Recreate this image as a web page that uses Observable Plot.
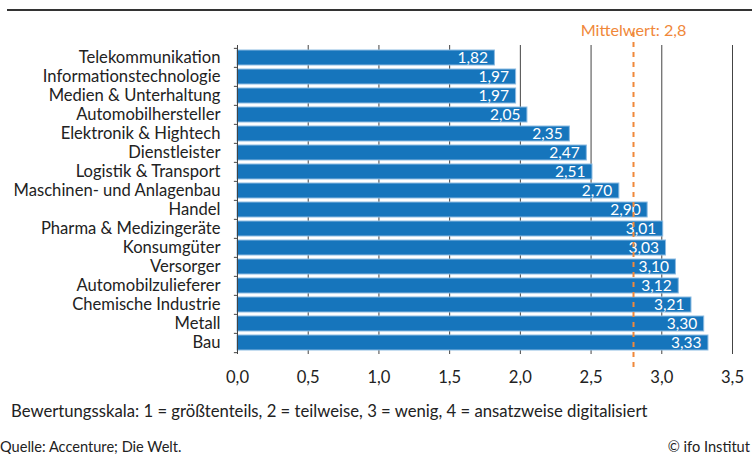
<!DOCTYPE html>
<html><head><meta charset="utf-8">
<script src="https://cdn.jsdelivr.net/npm/d3@7"></script>
<script src="https://cdn.jsdelivr.net/npm/@observablehq/plot@0.6"></script>
<style>
body{margin:0;background:#fff;}
#wrap{position:relative;width:752px;height:454px;font-family:Lato,"Noto Sans",sans-serif;color:#222;overflow:hidden;}
#topline{position:absolute;left:7px;right:0;top:9px;height:2px;background:#333;}
.t{position:absolute;white-space:nowrap;line-height:1;}
</style></head>
<body><div id="wrap"><div id="topline"></div></div>
<script>
const categories = ["Telekommunikation","Informationstechnologie","Medien & Unterhaltung","Automobilhersteller","Elektronik & Hightech","Dienstleister","Logistik & Transport","Maschinen- und Anlagenbau","Handel","Pharma & Medizingeräte","Konsumgüter","Versorger","Automobilzulieferer","Chemische Industrie","Metall","Bau"];
const values = [1.82,1.97,1.97,2.05,2.35,2.47,2.51,2.70,2.90,3.01,3.03,3.10,3.12,3.21,3.30,3.33];
const xTicks = [0,0.5,1,1.5,2,2.5,3,3.5];
const meanValue = 2.8;
const meanLabel = "Mittelwert: 2,8";
const scaleNote = "Bewertungsskala: 1 = größtenteils, 2 = teilweise, 3 = wenig, 4 = ansatzweise digitalisiert";
const source = "Quelle: Accenture; Die Welt.";
const credit = "© ifo Institut";

const data = categories.map((c,i)=>({cat:c, v:values[i]}));
const fmt = d => d.toFixed(1).replace(".", ",");
const fmt2 = d => d.toFixed(2).replace(".", ",");
const H = 395, mt = 45, mb = H - 354;
const step = (354 - mt) / categories.length;

const chart = Plot.plot({
  width: 752, height: H,
  marginLeft: 237, marginRight: 20, marginTop: mt, marginBottom: mb,
  style: {fontFamily: "Lato, 'Noto Sans', sans-serif", fontSize: "16.6px", color: "#222", background: "transparent"},
  x: {domain: [0, 3.5], ticks: xTicks, tickFormat: fmt, tickSize: 0, tickPadding: 17, label: null},
  y: {domain: categories, padding: 0, tickSize: 0, tickPadding: 17, label: null},
  marks: [
    Plot.ruleX(xTicks.filter(d => d > 0), {stroke: "#444", strokeWidth: 1}),
    Plot.barX(data, {x: "v", y: "cat", fill: "#1675bc", stroke: "#8bbbe2", strokeWidth: 1, insetTop: 2, insetBottom: 2}),
    Plot.text(data, {x: "v", y: "cat", text: d => fmt2(d.v), textAnchor: "end", dx: -7, fill: "white", fontSize: 15.5}),
    Plot.ruleX([0], {stroke: "#444", strokeWidth: 1}),
    Plot.ruleY(categories, {y: d => d, x1: -0.022, x2: 0, dy: -step/2, stroke: "#444"}),
    Plot.ruleY(categories.slice(-1), {y: d => d, x1: -0.022, x2: 0, dy: step/2, stroke: "#444"}),
    Plot.ruleX([meanValue], {stroke: "#f0883a", strokeWidth: 2, strokeDasharray: "5,5", insetTop: -13, insetBottom: -18}),
    Plot.text([meanValue], {x: d => d, frameAnchor: "top", dy: -21, text: () => meanLabel, fill: "#f0883a", fontSize: 16.2})
  ]
});
const wrap = document.getElementById("wrap");
chart.style.position = "absolute"; chart.style.left = "0"; chart.style.top = "0";
wrap.appendChild(chart);
function addText(txt, css){const d=document.createElement("div");d.className="t";d.textContent=txt;Object.assign(d.style,css);wrap.appendChild(d);}
addText(scaleNote, {left:"11px", top:"403px", fontSize:"16.7px"});
addText(source, {left:"0px", top:"440px", fontSize:"14.6px"});
addText(credit, {right:"2px", top:"440px", fontSize:"14.6px"});
</script></body></html>
